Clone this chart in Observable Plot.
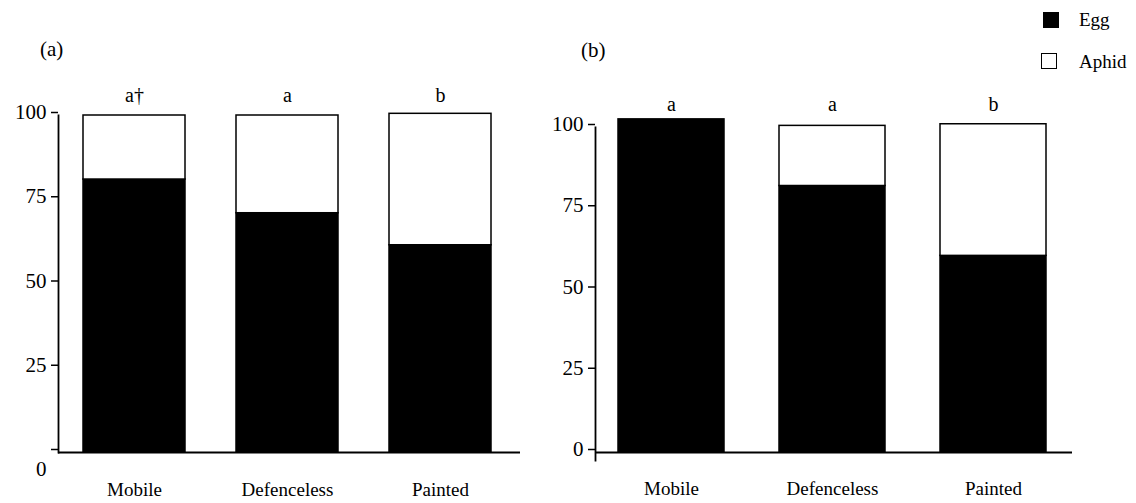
<!DOCTYPE html>
<html><head><meta charset="utf-8">
<script src="https://cdn.jsdelivr.net/npm/d3@7"></script>
<script src="https://cdn.jsdelivr.net/npm/@observablehq/plot@0.6"></script>
<style>
body{margin:0;background:#fff;}
#wrap{position:relative;width:1136px;height:503px;font-family:"Liberation Serif","Times New Roman",serif;color:#000;}
#wrap svg{position:absolute;left:0;top:0;}
.lbl{position:absolute;font-size:19px;line-height:1;white-space:nowrap;}
.sw{position:absolute;width:16px;height:16px;box-sizing:border-box;border:1.5px solid #000;}
</style></head><body>
<div id="wrap">
 <div class="lbl" style="left:40px;top:39px;font-size:21px">(a)</div>
 <div class="lbl" style="left:581px;top:40px;font-size:21px">(b)</div>
 <div class="sw" style="left:1043px;top:12px;background:#000"></div>
 <div class="lbl" style="left:1079px;top:10px">Egg</div>
 <div class="sw" style="left:1041px;top:53px;background:#fff"></div>
 <div class="lbl" style="left:1079px;top:52px">Aphid</div>
</div>
<script>
const categories = ["Mobile", "Defenceless", "Painted"];
const seriesNames = ["Egg", "Aphid"];
const eggA = [81, 71, 61.5];
const aphidA = [19, 29, 39];
const lettersA = ["a†", "a", "b"];
const eggB = [102.5, 82, 60.5];
const aphidB = [0, 18.5, 40.5];
const lettersB = ["a", "a", "b"];
const yTicks = [0, 25, 50, 75, 100];

function panel(egg, aphid, letters, o) {
  const rows = [];
  categories.forEach((c, i) => {
    rows.push({cat: c, series: "Egg", value: egg[i]});
    rows.push({cat: c, series: "Aphid", value: aphid[i]});
  });
  const tops = categories.map((c, i) => ({cat: c, letter: letters[i], y: 100}));
  const marks = [
    Plot.barY(rows, {x: "cat", y: "value", fill: "series", stroke: "#000", strokeWidth: 1.5}),
    Plot.ruleY([0], {stroke: "#000", strokeWidth: 1.8}),
    Plot.frame({anchor: "left", stroke: "#000", strokeWidth: 1.8}),
    Plot.axisY(yTicks, {tickSize: 7, tickPadding: 5, strokeWidth: 1.5, dy: -3, label: null, fontSize: 21,
      tickFormat: d => (o.zeroLow && d === 0) ? "" : String(d)}),
    Plot.axisX({tickSize: 0, tickPadding: o.xPad, label: null, fontSize: 19}),
    Plot.text(tops, {x: "cat", y: "y", text: "letter", dy: o.letterDy, fontSize: 20})
  ];
  if (o.zeroLow) {
    marks.push(Plot.text([0], {y: d => d, text: d => String(d), frameAnchor: "left", textAnchor: "end", dx: -12, dy: 17, fontSize: 21}));
  }
  return Plot.plot({
    width: 1136, height: 503,
    marginLeft: o.left, marginRight: o.right, marginTop: o.top, marginBottom: o.bottom,
    style: {background: "none", overflow: "visible", fontFamily: "'Liberation Serif', 'Times New Roman', serif", fontSize: "19px", color: "#000"},
    x: {type: "band", domain: categories, range: o.xRange, paddingInner: o.pad, paddingOuter: 0, align: 0.5, label: null},
    y: {domain: [0, 100], range: o.yRange, label: null},
    color: {domain: seriesNames, range: ["#000", "#fff"]},
    marks
  });
}

const wrap = document.getElementById("wrap");
wrap.appendChild(panel(eggA, aphidA, lettersA, {
  left: 58, right: 616, top: 115, bottom: 51,
  xRange: [82, 491], pad: 0.335, yRange: [452, 115], letterDy: -20, zeroLow: true, xPad: 30
}));
wrap.appendChild(panel(eggB, aphidB, lettersB, {
  left: 595, right: 64, top: 127, bottom: 43,
  xRange: [617, 1046], pad: 0.343, yRange: [452, 127], letterDy: -23, zeroLow: false, xPad: 21
}));
</script>
</body></html>
